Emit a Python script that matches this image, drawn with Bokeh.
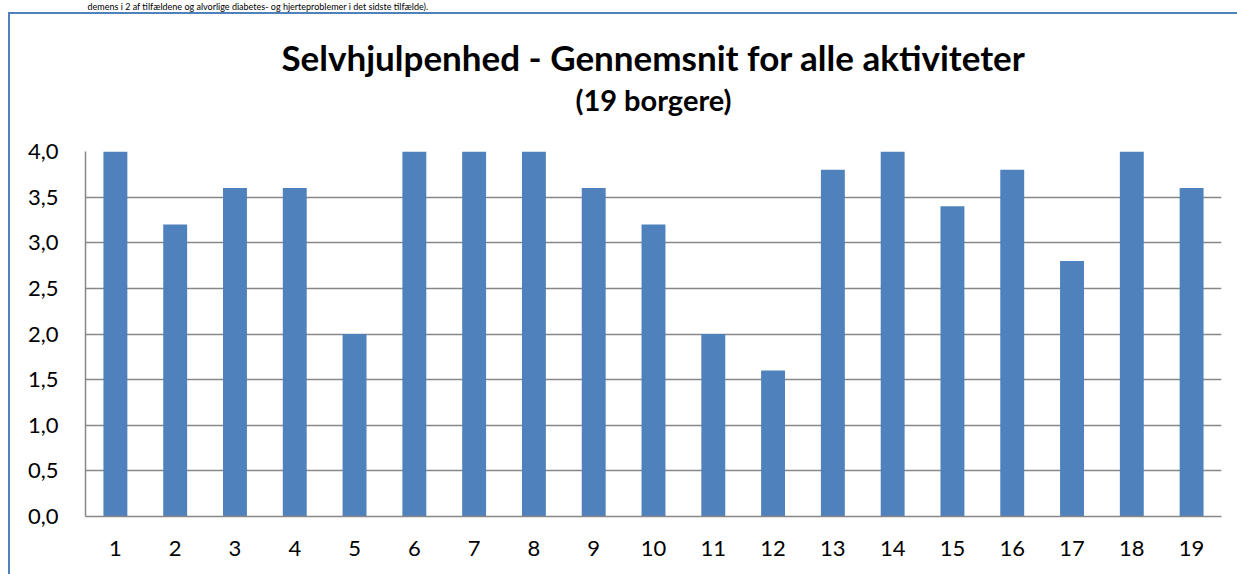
from bokeh.plotting import figure
from bokeh.models import Title, FixedTicker, InlineStyleSheet, Label
from bokeh.layouts import column
from bokeh.embed import file_html
from bokeh.resources import INLINE

categories = [str(i) for i in range(1, 20)]
values = [4.0, 3.2, 3.6, 3.6, 2.0, 4.0, 4.0, 4.0, 3.6, 3.2, 2.0, 1.6, 3.8, 4.0, 3.4, 3.8, 2.8, 4.0, 3.6]
y_ticks = [0.0, 0.5, 1.0, 1.5, 2.0, 2.5, 3.0, 3.5, 4.0]
y_tick_labels = ["0,0", "0,5", "1,0", "1,5", "2,0", "2,5", "3,0", "3,5", "4,0"]
title_text = "Selvhjulpenhed - Gennemsnit for alle aktiviteter"
subtitle_text = "(19 borgere)"
top_text = "demens i 2 af tilfældene og alvorlige diabetes- og hjerteproblemer i det sidste tilfælde)."

FONT = "Lato"
BAR = "#4F81BD"
GRID = "#878787"

# thin strip above the chart frame holding the (cropped) document text
top = figure(width=1237, height=12, output_backend="svg", toolbar_location=None,
             x_axis_type=None, y_axis_type=None, x_range=(0, 1), y_range=(0, 1),
             min_border=0, min_border_left=0, min_border_right=0,
             min_border_top=0, min_border_bottom=0)
top.outline_line_color = None
top.border_fill_color = "white"
top.background_fill_color = "white"
top.add_layout(Label(x=0, y=1, x_offset=2, y_offset=0, text=top_text,
                     text_font=FONT, text_font_size="9px", text_color="#000000",
                     text_baseline="top"))

p = figure(x_range=categories, y_range=(0, 4), width=1237, height=562,
           output_backend="svg", toolbar_location=None, title=None,
           min_border_left=85, min_border_right=16, min_border_top=139, min_border_bottom=58)

p.vbar(x=categories, top=values, width=0.4, color=BAR, line_color=None)

# spacer between the plot frame and the subtitle
p.add_layout(Title(text=" ", text_font=FONT, text_font_size="1px", standoff=30), "above")
p.add_layout(Title(text=subtitle_text, align="center", text_font=FONT, text_font_size="29px",
                   text_font_style="bold", text_color="#000000", standoff=4), "above")
p.add_layout(Title(text=title_text, align="center", text_font=FONT, text_font_size="35px",
                   text_font_style="bold", text_color="#000000", standoff=0), "above")

p.outline_line_color = None
p.background_fill_color = "white"
p.border_fill_color = "white"

p.yaxis.ticker = FixedTicker(ticks=y_ticks)
p.yaxis.major_label_overrides = dict(zip(y_ticks, y_tick_labels))
p.yaxis.major_tick_line_color = None
p.yaxis.minor_tick_line_color = None
p.yaxis.axis_line_color = GRID
p.yaxis.axis_line_width = 1.5
p.yaxis.major_label_text_font = FONT
p.yaxis.major_label_text_font_size = "22px"
p.yaxis.major_label_text_color = "#000000"
p.yaxis.major_label_standoff = 21

p.xaxis.major_tick_line_color = None
p.xaxis.minor_tick_line_color = None
p.xaxis.axis_line_color = GRID
p.xaxis.axis_line_width = 1.5
p.xaxis.major_label_text_font = FONT
p.xaxis.major_label_text_font_size = "22px"
p.xaxis.major_label_text_color = "#000000"
p.xaxis.major_label_standoff = 18

p.xgrid.grid_line_color = None
p.ygrid.ticker = FixedTicker(ticks=y_ticks)
p.ygrid.grid_line_color = GRID
p.ygrid.grid_line_width = 1.5

p.stylesheets = [InlineStyleSheet(css="""
:host { position: relative; }
:host::after {
  content: "";
  position: absolute;
  left: 8px; top: 0px; right: -20px; bottom: -20px;
  border-left: 2px solid #4F81BD;
  border-top: 2px solid #4F81BD;
  pointer-events: none;
}
""")]

layout = column(top, p, spacing=0)

open("out.html", "w").write(file_html(layout, INLINE))
